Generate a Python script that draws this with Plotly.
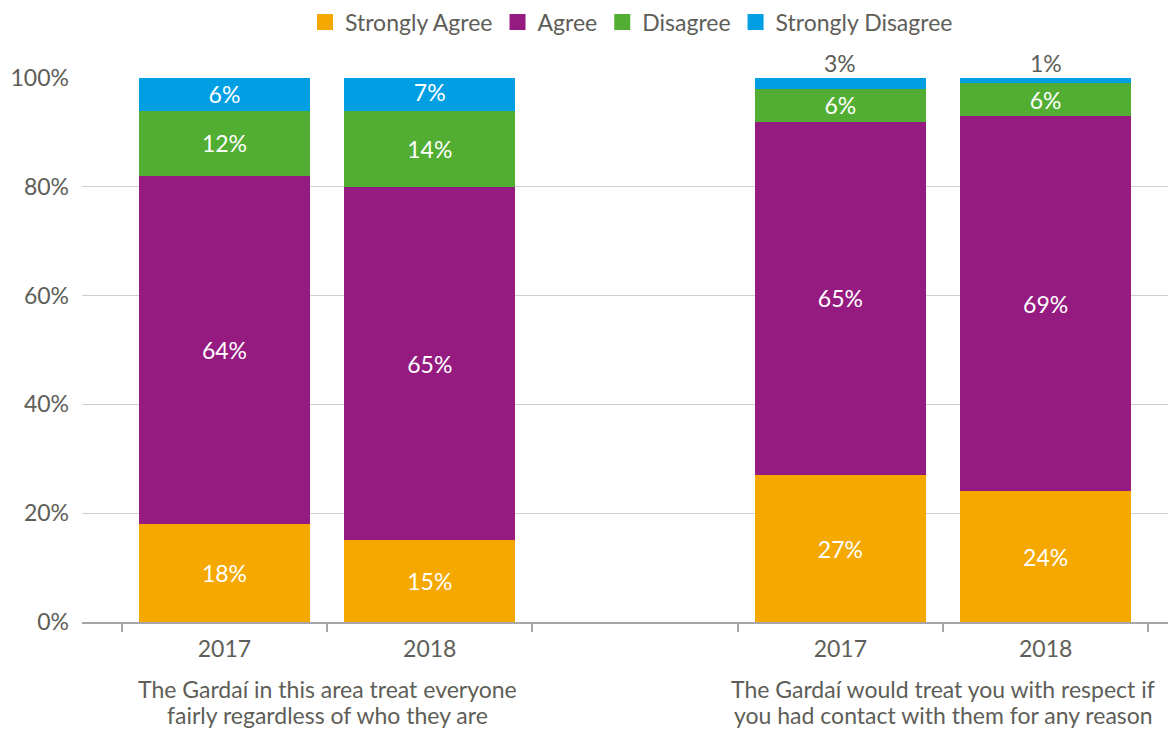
import plotly.graph_objects as go

# Survey responses (percent) for two statements, 2017 vs 2018
positions = [0, 1, 3, 4]
years = ["2017", "2018", "2017", "2018"]
statement_lines = [
    ["The Gardaí in this area treat everyone", "fairly regardless of who they are"],
    ["The Gardaí would treat you with respect if", "you had contact with them for any reason"],
]
statement_centres = [0.5, 3.5]

strongly_agree = [18, 15, 27, 24]
agree = [64, 65, 65, 69]
disagree = [12, 14, 6, 6]
strongly_disagree = [6, 7, 3, 1]

y_ticks = [0, 20, 40, 60, 80, 100]

series = [
    ("Strongly Agree", strongly_agree, "rgb(245,168,0)"),
    ("Agree", agree, "rgb(149,27,129)"),
    ("Disagree", disagree, "rgb(82,174,50)"),
    ("Strongly Disagree", strongly_disagree, "rgb(0,159,227)"),
]

# segments too thin for an inside label get their label above the bar
outside_label = [False, False, True, True]

FONT = "Lato, 'Open Sans', sans-serif"
TEXT_GREY = "#5e5e58"
FS = 23

fig = go.Figure()
for name, vals, colour in series:
    if name == "Strongly Disagree":
        texts = ["" if o else f"{v}%" for v, o in zip(vals, outside_label)]
    else:
        texts = [f"{v}%" for v in vals]
    fig.add_trace(go.Bar(
        x=positions, y=vals, name=name, showlegend=False,
        marker=dict(color=colour, line=dict(width=0)),
        width=0.834,
        text=texts, textposition="inside", insidetextanchor="middle",
        textfont=dict(color="white", size=FS, family=FONT),
        textangle=0, constraintext="none",
        hoverinfo="skip",
    ))

# legend keys drawn as square markers
for name, vals, colour in series:
    fig.add_trace(go.Scatter(
        x=[None], y=[None], mode="markers", name=name,
        marker=dict(symbol="square", size=17, color=colour),
        hoverinfo="skip",
    ))

annotations = []
for i, pos in enumerate(positions):
    if outside_label[i]:
        annotations.append(dict(
            x=pos, y=100, xref="x", yref="y", yanchor="bottom",
            text=f"{strongly_disagree[i]}%", showarrow=False, yshift=-1,
            font=dict(size=FS, color=TEXT_GREY, family=FONT),
        ))
# two-line category captions under each pair of bars
line_y = [-0.1235, -0.1715]
for lines, centre in zip(statement_lines, statement_centres):
    for text, ly in zip(lines, line_y):
        annotations.append(dict(
            x=centre, y=ly, xref="x", yref="paper", yanchor="middle",
            text=text, showarrow=False, borderpad=0,
            font=dict(size=FS, color=TEXT_GREY, family=FONT),
        ))

fig.update_layout(
    barmode="stack",
    width=1171, height=729,
    margin=dict(l=82, r=3, t=78, b=107, autoexpand=False),
    paper_bgcolor="white", plot_bgcolor="white",
    font=dict(family=FONT, color=TEXT_GREY, size=FS),
    showlegend=True,
    legend=dict(
        orientation="h", x=0.506, xanchor="center", y=1.103, yanchor="middle",
        font=dict(size=FS, color=TEXT_GREY, family=FONT),
        itemwidth=30, tracegroupgap=0, traceorder="normal",
    ),
    annotations=annotations,
)

fig.update_xaxes(
    range=[-0.694, 4.596],
    tickmode="array", tickvals=positions, ticktext=years,
    ticks="", ticklabelstandoff=5,
    tickfont=dict(size=FS, color=TEXT_GREY, family=FONT),
    showgrid=False, zeroline=False,
    showline=True, linecolor="#a6a6a6", linewidth=2,
    minor=dict(ticks="outside", tick0=-0.5, dtick=1, ticklen=8,
               tickcolor="#a6a6a6", tickwidth=2, showgrid=False),
    fixedrange=True,
)
fig.update_yaxes(
    range=[0, 100], tickmode="array", tickvals=y_ticks,
    ticktext=[f"{v}%" for v in y_ticks],
    tickfont=dict(size=FS, color=TEXT_GREY, family=FONT),
    showgrid=True, gridcolor="#cfcfcf", gridwidth=1,
    zeroline=False, showline=False, ticks="", ticklabelstandoff=12,
    fixedrange=True,
)

fig.write_html("out.html", config={"displayModeBar": False})
